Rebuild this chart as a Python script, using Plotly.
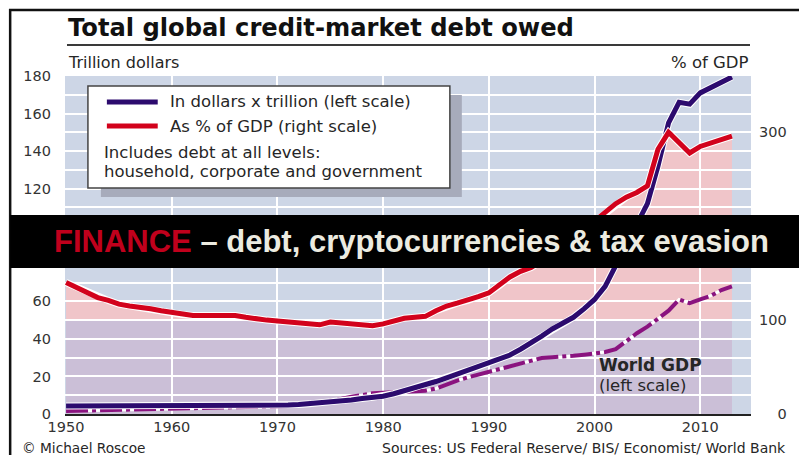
import plotly.graph_objects as go

# ---------------- data ----------------
years = list(range(1950, 2014))

debt_pct_gdp = [140, 135, 129, 124, 121, 117, 115, 114, 112, 110,
                108, 106, 105, 105, 105, 105, 105, 103, 101, 100,
                99, 98, 98, 97, 95, 98, 97, 96, 95, 94,
                96, 99, 102, 103, 104, 110, 115, 118, 121, 125,
                129, 137, 146, 152, 156, 163, 170, 178, 187, 196,
                205, 214, 224, 231, 236, 243, 282, 300, 289, 278,
                285, 289, 293, 296]

debt_trillion = [4.2, 4.2, 4.2, 4.3, 4.3, 4.3, 4.4, 4.4, 4.4, 4.5,
                 4.5, 4.5, 4.5, 4.5, 4.5, 4.5, 4.5, 4.5, 4.6, 4.6,
                 4.6, 4.8, 5.0, 5.4, 5.8, 6.2, 6.8, 7.5, 8.3, 8.9,
                 9.5, 10.8, 12.3, 14.0, 15.6, 17.3, 19.2, 21.2, 23.2, 25.2,
                 27.0, 29.0, 31.4, 34.5, 37.8, 41.5, 45.3, 48.3, 51.5, 56.0,
                 61.0, 68.0, 79.0, 90.0, 100.0, 112.0, 132.0, 155.0, 166.0, 165.0,
                 171.0, 174.0, 177.0, 179.5]

world_gdp = [1.6, 1.7, 1.8, 1.9, 2.0, 2.1, 2.2, 2.3, 2.4, 2.6,
             2.7, 2.8, 2.9, 3.0, 3.1, 3.2, 3.3, 3.4, 3.5, 3.6,
             3.8, 4.2, 4.8, 5.6, 6.3, 7.0, 8.0, 9.2, 10.3, 11.0,
             11.3, 11.5, 11.7, 12.0, 12.4, 13.6, 15.8, 17.8, 19.5, 21.0,
             22.4, 24.2, 25.5, 26.8, 28.3, 29.8, 30.2, 30.4, 31.0, 31.6,
             32.2, 33.0, 34.5, 39.0, 43.0, 46.5, 50.5, 55.0, 61.0, 59.0,
             61.0, 63.0, 66.0, 68.0]

x_ticks = [1950, 1960, 1970, 1980, 1990, 2000, 2010]
x_ticktext = ["1950", "1960", "1970", "1980", "1990", "2000", "2010"]
# labels for 80 and 100 are hidden behind the banner in the reference
left_ticks = [0, 20, 40, 60, 120, 140, 160, 180]
# label for 200 is hidden behind the banner in the reference
right_ticks = [0, 100, 300]
right_ticktext = ["\u2007\u20070", "100", "300"]

# ---------------- colours / layout helpers ----------------
BG = "#cdd6e6"
PINK = "#f0c5c9"
LAVENDER = "#cbbfd7"
PURPLE = "#2c0b6e"
RED = "#d2021c"
GDPCOL = "#8a137f"
TXT = "#262626"
FONT = "DejaVu Sans"

W, H = 799, 455
L, R, T, B = 65, 753, 76, 414


def px(p):
    return (p - L) / (R - L)


def py(p):
    return (B - p) / (B - T)


def area_path(xs, ys):
    pts = [f"L {x},{y}" for x, y in zip(xs, ys)]
    return f"M {xs[0]},0 " + " ".join(pts) + f" L {xs[-1]},0 Z"


fig = go.Figure()

# GDP dash-dot with white core
fig.add_trace(go.Scatter(x=years, y=world_gdp, mode="lines", yaxis="y",
                         line=dict(color="white", width=3), hoverinfo="skip"))
fig.add_trace(go.Scatter(x=years, y=world_gdp, mode="lines", yaxis="y",
                         line=dict(color=GDPCOL, width=4, dash="22px,4px,4px,4px"),
                         name="World GDP"))
# red % of GDP with white halo
fig.add_trace(go.Scatter(x=years, y=debt_pct_gdp, mode="lines", yaxis="y2",
                         line=dict(color="white", width=7), hoverinfo="skip"))
fig.add_trace(go.Scatter(x=years, y=debt_pct_gdp, mode="lines", yaxis="y2",
                         line=dict(color=RED, width=5), name="As % of GDP"))
# purple debt in dollars with halo
fig.add_trace(go.Scatter(x=years, y=debt_trillion, mode="lines", yaxis="y",
                         line=dict(color="white", width=7), hoverinfo="skip"))
fig.add_trace(go.Scatter(x=years, y=debt_trillion, mode="lines", yaxis="y",
                         line=dict(color=PURPLE, width=5), name="In dollars x trillion"))

shapes = []
# fills below gridlines
shapes.append(dict(type="path", xref="x", yref="y2", layer="below",
                   path=area_path(years, debt_pct_gdp),
                   fillcolor=PINK, line=dict(width=0)))
shapes.append(dict(type="path", xref="x", yref="y2", layer="below",
                   path=area_path(years, [min(v, 100) for v in debt_pct_gdp]),
                   fillcolor=LAVENDER, line=dict(width=0)))

# outer frame
shapes.append(dict(type="rect", xref="paper", yref="paper",
                   x0=px(10), x1=px(830), y0=py(480), y1=py(10),
                   line=dict(color="#111111", width=2.5), fillcolor="rgba(0,0,0,0)"))
# title underline
shapes.append(dict(type="line", xref="paper", yref="paper",
                   x0=px(67), x1=px(752), y0=py(45), y1=py(45),
                   line=dict(color="#3a3a3a", width=2)))
# legend shadow + box
shapes.append(dict(type="rect", xref="paper", yref="paper",
                   x0=px(101), x1=px(463), y0=py(197), y1=py(95),
                   line=dict(width=0), fillcolor="#a7abbb"))
shapes.append(dict(type="rect", xref="paper", yref="paper",
                   x0=px(88), x1=px(451), y0=py(188), y1=py(86),
                   line=dict(color="#444444", width=1.5), fillcolor="white"))
shapes.append(dict(type="line", xref="paper", yref="paper",
                   x0=px(107), x1=px(158), y0=py(102), y1=py(102),
                   line=dict(color=PURPLE, width=5)))
shapes.append(dict(type="line", xref="paper", yref="paper",
                   x0=px(107), x1=px(158), y0=py(126), y1=py(126),
                   line=dict(color=RED, width=5)))
# banner
shapes.append(dict(type="rect", xref="paper", yref="paper",
                   x0=px(10), x1=px(830), y0=py(268), y1=py(215),
                   line=dict(width=0), fillcolor="black"))

ann = []


def text(x, y, s, size, color=TXT, anchor="left", family=FONT):
    ann.append(dict(xref="paper", yref="paper", x=px(x), y=py(y), text=s,
                    showarrow=False, xanchor=anchor, yanchor="middle",
                    font=dict(family=family, size=size, color=color)))


text(66, 28, "<b>Total global credit-market debt owed</b>", 24.2, "#111111")
text(66, 62, "Trillion dollars", 16)
text(753, 62, "% of GDP", 16.5, anchor="right")
text(168, 102, "In dollars x trillion (left scale)", 16.5)
text(168, 126, "As % of GDP (right scale)", 16.5)
text(102, 152, "Includes debt at all levels:", 16.5)
text(102, 171, "household, corporate and government", 16.5)
text(599, 365, "<b>World GDP</b>", 17)
text(599, 385, "(left scale)", 16.5)
text(20, 448, "© Michael Roscoe", 13.7)
text(790, 448, "Sources: US Federal Reserve/ BIS/ Economist/ World Bank", 14, anchor="right")
text(52, 242, '<b><span style="color:#c0001c">FINANCE</span> – debt, cryptocurrencies &amp; tax evasion</b>',
     31, "#ecebe0", family="Liberation Sans")

fig.update_layout(
    width=W, height=H,
    margin=dict(l=L, r=W - R, t=T, b=H - B, pad=0),
    paper_bgcolor="white", plot_bgcolor=BG,
    showlegend=False,
    font=dict(family=FONT, size=14.5, color="#333333"),
    shapes=shapes, annotations=ann,
    xaxis=dict(range=[1949.9, 2014.8], tickvals=x_ticks, ticktext=x_ticktext,
               showgrid=False, showline=True, linecolor="#222222", linewidth=2,
               ticks="", zeroline=False, ticklabelstandoff=-1,
               minor=dict(tickvals=x_ticks[1:], showgrid=True, gridcolor="white", gridwidth=2)),
    yaxis=dict(range=[0, 180], tickvals=left_ticks, showgrid=True, gridcolor="white",
               gridwidth=1.5, zeroline=False, ticks="", ticklabelstandoff=13,
               minor=dict(dtick=10, tick0=0, showgrid=True, gridcolor="white", gridwidth=1.5)),
    yaxis2=dict(range=[0, 360], tickvals=right_ticks, ticktext=right_ticktext,
                overlaying="y", side="right", showgrid=False, zeroline=False,
                ticks="", ticklabelstandoff=7),
)

fig.write_html("out.html")
